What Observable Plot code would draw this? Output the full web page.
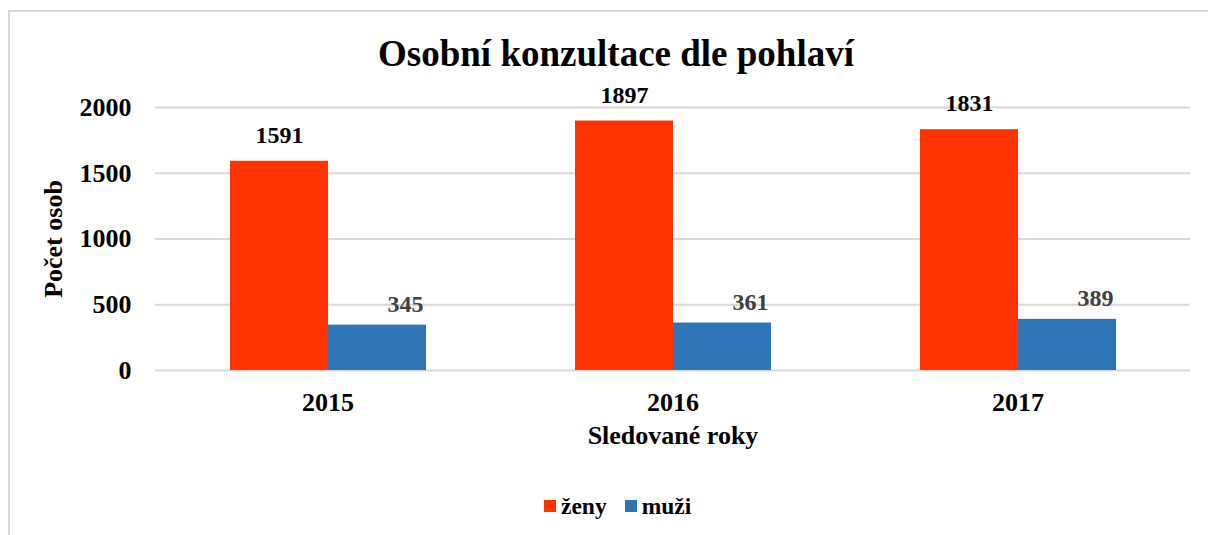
<!DOCTYPE html>
<html>
<head>
<meta charset="utf-8">
<script src="https://cdn.jsdelivr.net/npm/d3@7"></script>
<script src="https://cdn.jsdelivr.net/npm/@observablehq/plot@0.6"></script>
<style>
  html, body { margin: 0; padding: 0; background: #fff; }
  #wrap { position: relative; width: 1208px; height: 535px; overflow: hidden; font-family: "Liberation Serif", "Times New Roman", serif; font-weight: bold; }
  #frame { position: absolute; left: 8px; top: 10px; width: 1300px; height: 600px; border-left: 2px solid #d9d9d9; border-top: 2px solid #d9d9d9; }
  #chart { position: absolute; left: 0; top: 0; }
  #title { position: absolute; left: 0; width: 1232px; top: 34px; text-align: center; font-size: 37px; line-height: 40px; color: #000; }
  #legend { position: absolute; top: 493px; left: 544px; font-size: 23.5px; line-height: 26px; color: #000; display: flex; align-items: center; }
  #legend .sw { display: inline-block; width: 12px; height: 12px; margin-right: 5px; }
  #legend .it { display: flex; align-items: center; margin-right: 18px; }
</style>
</head>
<body>
<div id="wrap">
  <div id="frame"></div>
  <div id="chart"></div>
  <div id="title"></div>
  <div id="legend"></div>
</div>
<script>
const titleText = "Osobní konzultace dle pohlaví";
const years = ["2015", "2016", "2017"];
const series = ["ženy", "muži"];
const zeny = [1591, 1897, 1831];
const muzi = [345, 361, 389];
const colors = ["#FF3300", "#2E75B6"];
const yTicks = [0, 500, 1000, 1500, 2000];
const yLabel = "Počet osob";
const xLabel = "Sledované roky";

const data = [];
years.forEach((yr, i) => {
  data.push({year: yr, sex: series[0], value: zeny[i]});
  data.push({year: yr, sex: series[1], value: muzi[i]});
});

const font = '"Liberation Serif", "Times New Roman", serif';

const chart = Plot.plot({
  width: 1208,
  height: 535,
  marginLeft: 154,
  marginRight: 18,
  marginTop: 107,
  marginBottom: 165,
  style: {fontFamily: font, fontWeight: "bold", background: "transparent", overflow: "visible"},
  fx: {domain: years, padding: 0, label: null},
  x: {domain: series, paddingInner: 0, paddingOuter: 0.753, axis: null},
  y: {domain: [0, 2000], label: null},
  color: {domain: series, range: colors},
  marks: [
    Plot.gridY(yTicks, {stroke: "#d9d9d9", strokeOpacity: 1, strokeWidth: 2}),
    Plot.axisY(yTicks, {tickSize: 0, tickPadding: 24, fontSize: 26, fill: "#000", tickFormat: d => String(d), label: yLabel, labelAnchor: "center", labelOffset: 112, labelArrow: "none"}),
    Plot.axisFx({anchor: "bottom", tickSize: 0, tickPadding: 22, fontSize: 26, fill: "#000", label: xLabel, labelAnchor: "center", labelOffset: 73, labelArrow: "none"}),
    Plot.barY(data, {fx: "year", x: "sex", y: "value", fill: "sex"}),
    Plot.text(data.filter(d => d.sex === series[0]), {fx: "year", x: "sex", y: "value", text: d => String(d.value), dy: -26, fontSize: 24, fill: "#000", lineAnchor: "middle"}),
    Plot.text(data.filter(d => d.sex === series[1]), {fx: "year", x: "sex", y: "value", text: d => String(d.value), dx: 28, dy: -21, fontSize: 24, fill: "#404040", lineAnchor: "middle"})
  ]
});
document.getElementById("chart").appendChild(chart);

document.getElementById("title").textContent = titleText;
const leg = document.getElementById("legend");
series.forEach((s, i) => {
  const it = document.createElement("span");
  it.className = "it";
  const sw = document.createElement("span");
  sw.className = "sw";
  sw.style.background = colors[i];
  const tx = document.createElement("span");
  tx.textContent = s;
  it.appendChild(sw);
  it.appendChild(tx);
  leg.appendChild(it);
});
</script>
</body>
</html>
